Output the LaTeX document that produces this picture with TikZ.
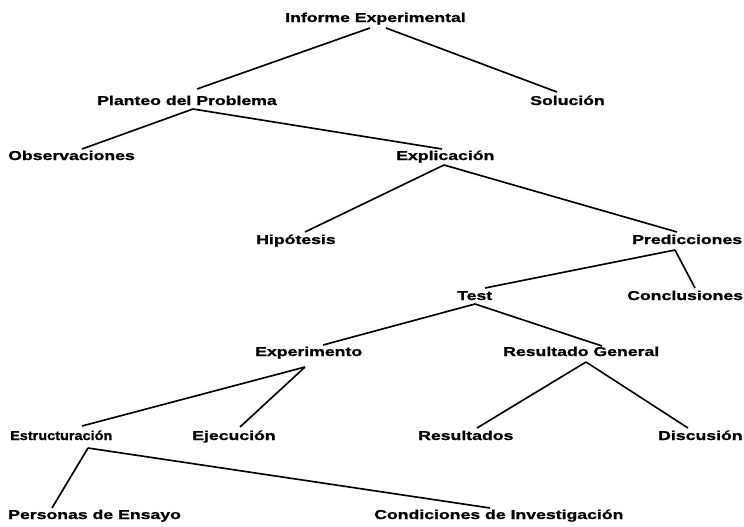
\documentclass[tikz,border=0pt]{standalone}
\usepackage{fontspec}
\setmainfont{Liberation Sans}[FakeStretch=1.37, BoldFeatures={FakeBold=1.2}]

\begin{document}
\begin{tikzpicture}[x=0.03cm, y=-0.03cm,
    rama/.style={line width=1.4pt},
    etiqueta/.style={inner sep=0pt, anchor=base west, font=\fontsize{11}{13}\selectfont\bfseries},
    estrecha/.style={xscale=0.82, transform shape}]
    \useasboundingbox (0,0) rectangle (744,527);

    % Nodos del informe
    \node[etiqueta] (inf) at (285,22) {Informe Experimental};
    \node[etiqueta] (pp) at (97,105) {Planteo del Problema};
    \node[etiqueta] (sol) at (530,105) {Solución};
    \node[etiqueta] (obs) at (8,160) {Observaciones};
    \node[etiqueta] (exp) at (396,160) {Explicación};
    \node[etiqueta] (hip) at (256,244) {Hipótesis};
    \node[etiqueta] (pred) at (632,244) {Predicciones};
    \node[etiqueta] (test) at (457,300) {Test};
    \node[etiqueta] (conc) at (627,300) {Conclusiones};
    \node[etiqueta] (expe) at (255,356) {Experimento};
    \node[etiqueta] (rg) at (503,356) {Resultado General};
    \node[etiqueta, estrecha] (est) at (10,440) {Estructuración};
    \node[etiqueta] (eje) at (192,440) {Ejecución};
    \node[etiqueta] (res) at (418,440) {Resultados};
    \node[etiqueta] (disc) at (658,440) {Discusión};
    \node[etiqueta] (pers) at (8,519) {Personas de Ensayo};
    \node[etiqueta] (cond) at (374,519) {Condiciones de Investigación};

    % Ramas
    \draw[rama] ([shift={(85,6)}]inf.base west) -- ([shift={(100,-16)}]pp.base west);
    \draw[rama] ([shift={(101,6)}]inf.base west) -- ([shift={(27,-13)}]sol.base west);
    \draw[rama] ([shift={(96,4)}]pp.base west) -- ([shift={(74,-11)}]obs.base west);
    \draw[rama] ([shift={(96,4)}]pp.base west) -- ([shift={(46,-11)}]exp.base west);
    \draw[rama] ([shift={(48,5)}]exp.base west) -- ([shift={(49,-12)}]hip.base west);
    \draw[rama] ([shift={(48,5)}]exp.base west) -- ([shift={(45,-12)}]pred.base west);
    \draw[rama] ([shift={(43,6)}]pred.base west) -- ([shift={(28,-12)}]test.base west);
    \draw[rama] ([shift={(43,6)}]pred.base west) -- ([shift={(68,-12)}]conc.base west);
    \draw[rama] ([shift={(18,4)}]test.base west) -- ([shift={(68,-11)}]expe.base west);
    \draw[rama] ([shift={(18,4)}]test.base west) -- ([shift={(99,-10)}]rg.base west);
    \draw[rama] ([shift={(50,11)}]expe.base west) -- ([shift={(72,-14)}]est.base west);
    \draw[rama] ([shift={(50,11)}]expe.base west) -- ([shift={(48,-13)}]eje.base west);
    \draw[rama] ([shift={(83,6)}]rg.base west) -- ([shift={(59,-12)}]res.base west);
    \draw[rama] ([shift={(83,6)}]rg.base west) -- ([shift={(30,-12)}]disc.base west);
    \draw[rama] ([shift={(78,8)}]est.base west) -- ([shift={(44,-11)}]pers.base west);
    \draw[rama] ([shift={(78,8)}]est.base west) -- ([shift={(116,-11)}]cond.base west);
\end{tikzpicture}
\end{document}
